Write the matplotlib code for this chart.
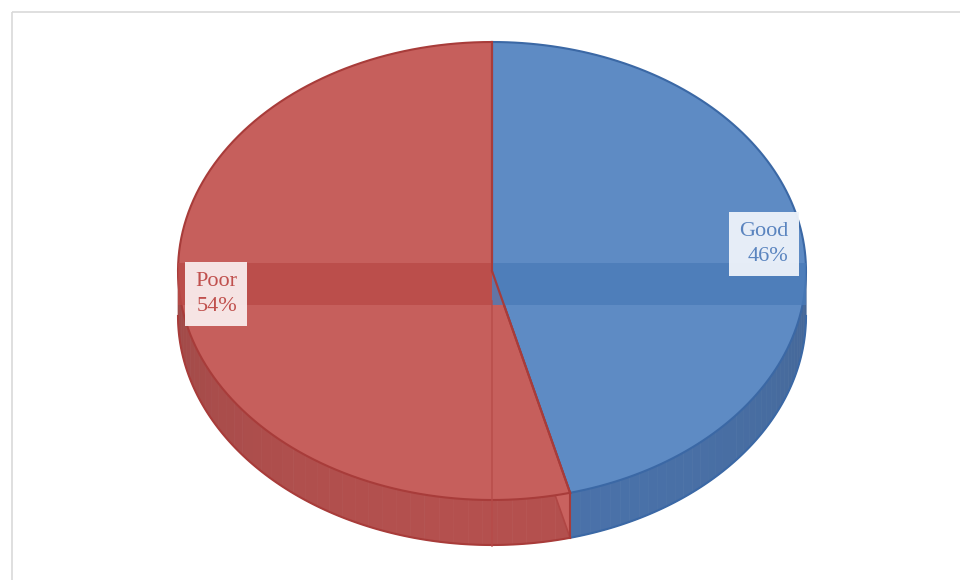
import numpy as np
import matplotlib.pyplot as plt
from matplotlib.patches import Polygon, Rectangle

# data
categories = ['Good', 'Poor']
shares = [46, 54]
labels = ['Good\n46%', 'Poor\n54%']

top_colors = ['#5e8bc4', '#c65f5c']
side_colors = ['#4a72aa', '#b4504e']
edge_colors = ['#3b68a5', '#a83c3a']
band_colors = ['#4a7bb8', '#b94a47']
text_colors = ['#5a84bf', '#c0504d']
box_colors = ['#eef3fa', '#f9ecec']

# pie geometry in pixel coordinates (y grows down)
cx, cy = 492, 271
a, b = 314, 229
depth = 45


def pt(phi, dy=0):
    r = np.radians(phi)
    return cx + a * np.sin(r), cy - b * np.cos(r) + dy


def arc(p0, p1, dy=0, n=120):
    phis = np.linspace(p0, p1, n)
    return [pt(p, dy) for p in phis]


fig = plt.figure(figsize=(9.6, 5.8), dpi=100)
ax = fig.add_axes([0, 0, 1, 1])
ax.set_xlim(0, 960)
ax.set_ylim(580, 0)
ax.axis('off')

# frame
ax.add_patch(Rectangle((12, 12), 960, 600, fill=False, ec='#d9d9d9', lw=1.2))

total = sum(shares)
bounds = np.concatenate([[0], np.cumsum(shares) / total * 360])

# side walls (front half only)
for i in range(len(shares)):
    p0, p1 = max(bounds[i], 90), min(bounds[i + 1], 270)
    if p1 <= p0:
        continue
    steps = np.linspace(p0, p1, 40)
    for s0, s1 in zip(steps[:-1], steps[1:]):
        mid = (s0 + s1) / 2
        shade = 0.85 + 0.15 * np.cos(np.radians(mid - 180))
        base = np.array(plt.matplotlib.colors.to_rgb(side_colors[i]))
        col = np.clip(base * shade + (1 - shade) * 0.15, 0, 1)
        poly = arc(s0, s1, 0, 4) + arc(s1, s0, depth, 4)
        ax.add_patch(Polygon(poly, closed=True, fc=col, ec=col, lw=0.5))
    ax.plot(*zip(*arc(p0, p1, depth)), color=edge_colors[i], lw=1.5)

# cut wall of the Poor slice at the boundary
phi_b = bounds[1]
bx, by = pt(phi_b)
ax.add_patch(Polygon([(cx, cy), (bx, by), (bx, by + depth), (cx, cy + depth)],
                     closed=True, fc='#c9625f', ec='#b04644', lw=1.2))
ax.plot([bx, bx], [by, by + depth], color='#a83c3a', lw=1.5)

# top faces
for i in range(len(shares)):
    poly = [(cx, cy)] + arc(bounds[i], bounds[i + 1])
    ax.add_patch(Polygon(poly, closed=True, fc=top_colors[i], ec=edge_colors[i], lw=1.5))

# inner band seen through the slices
band_top, band_bot = 263, 305
ax.add_patch(Rectangle((cx - a, band_top), a, band_bot - band_top, fc=band_colors[1], ec='none', alpha=0.8))
ax.add_patch(Rectangle((cx, band_top), a, band_bot - band_top, fc=band_colors[0], ec='none', alpha=0.8))
ax.plot([cx, cx], [cy + 30, cy + 275], color='#b64a48', lw=1.2, alpha=0.8)
ax.plot([cx, bx], [cy, by], color='#a83c3a', lw=1.5)
ax.plot([cx, cx], [cy - b, cy], color='#a83c3a', lw=1.5)

# labels
label_pos = [(764, 244), (216, 294)]
for i, lab in enumerate(labels):
    ax.text(*label_pos[i], lab, ha='center', va='center', multialignment='right',
            fontsize=16, family='Liberation Serif', color=text_colors[i], linespacing=1.45,
            bbox=dict(boxstyle='square,pad=0.45', fc=box_colors[i], ec='none', alpha=0.95))

fig.savefig('out.png', dpi=100)
